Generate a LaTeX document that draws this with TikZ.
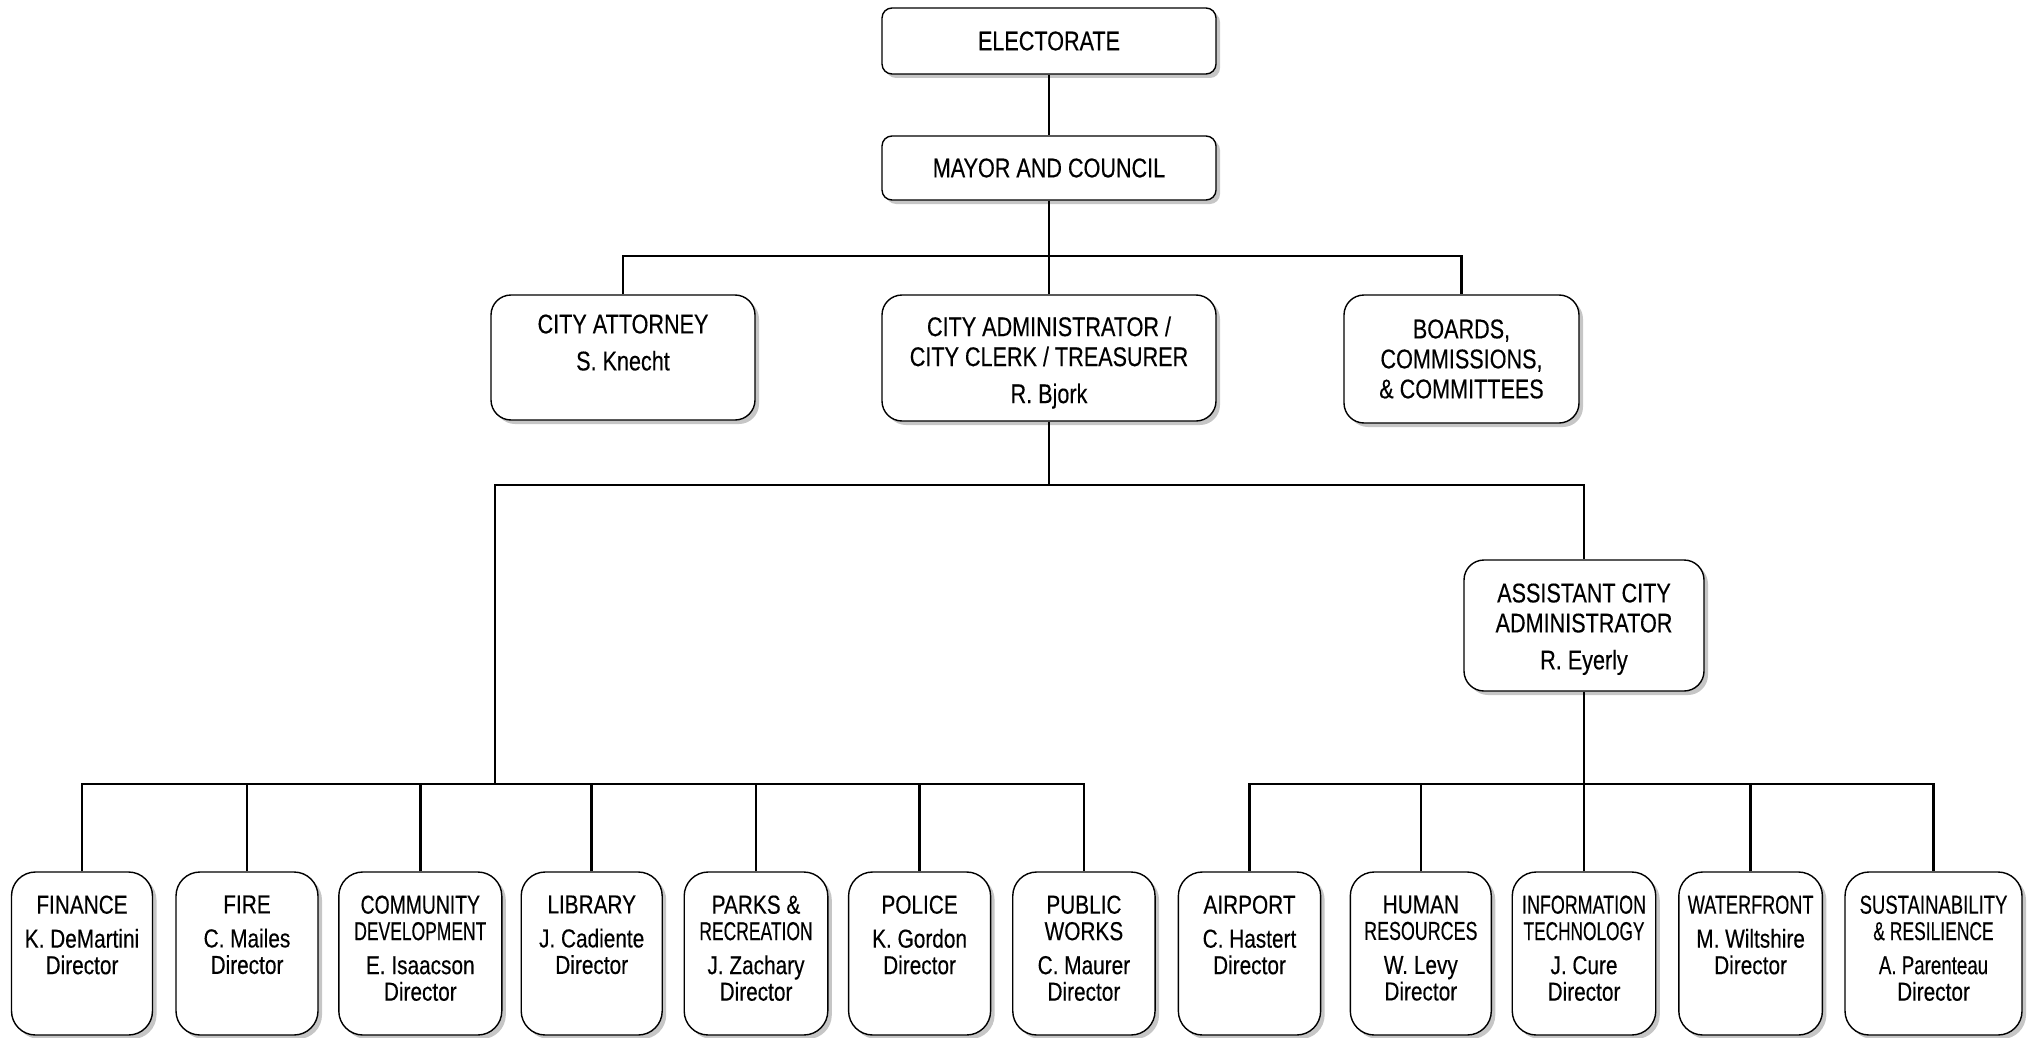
\documentclass[tikz,border=0pt]{standalone}
\usepackage{fontspec}
\setmainfont[FakeStretch=0.8,FakeBold=0.3]{Liberation Sans}
\usepackage{graphicx}
\usetikzlibrary{shadows}
\newcommand\sq[2]{\scalebox{#1}[1]{#2}}
\begin{document}
\begin{tikzpicture}[x=1pt,y=1pt,
  box/.style={draw, line width=1.4pt, fill=white, rounded corners=#1, inner sep=0pt,
    drop shadow={shadow xshift=4pt, shadow yshift=-4pt, fill=black!50, opacity=0.45}},
  box/.default=20pt,
  topfont/.style={font=\fontsize{27}{30}\selectfont, align=center},
  ttxt/.style={anchor=north, inner sep=0pt, align=center, font=\fontsize{27}{30}\selectfont},
  btxt/.style={anchor=north, inner sep=0pt, align=center, font=\fontsize{26}{26.5}\selectfont},
  conn/.style={line width=2.6pt, line join=miter}
]
\useasboundingbox (0,0) rectangle (2028,-1038);
\newcommand\deptbox[4]{%
  \node[box=24pt, minimum width=#3, minimum height=163pt] (#1) at (#2,-953.5) {};
  \node[btxt] (#1t) at ([yshift=-24pt]#1.north) {#4};
}
% top levels
\node[box=10pt, topfont, minimum width=334pt, minimum height=66pt] (elec) at (1049,-41) {ELECTORATE};
\node[box=10pt, topfont, minimum width=334pt, minimum height=64pt] (mayor) at (1049,-168) {MAYOR AND COUNCIL};
\node[box, minimum width=264pt, minimum height=125pt] (atty) at (623,-357.5) {};
\node[ttxt] (attyt) at ([yshift=-20pt]atty.north) {CITY ATTORNEY\\[7pt]S. Knecht};
\node[box, minimum width=334pt, minimum height=126pt] (admin) at (1049,-358) {};
\node[ttxt] (admint) at ([yshift=-22pt]admin.north) {CITY ADMINISTRATOR /\\CITY CLERK / TREASURER\\[7pt]R. Bjork};
\node[box, topfont, minimum width=235pt, minimum height=128pt] (boards) at (1461.5,-359) {BOARDS,\\COMMISSIONS,\\\& COMMITTEES};
\node[box, minimum width=240pt, minimum height=131pt] (asst) at (1584,-625.5) {};
\node[ttxt] (asstt) at ([yshift=-24pt]asst.north) {ASSISTANT CITY\\ADMINISTRATOR\\[7pt]R. Eyerly};
% departments
\deptbox{fin}{82}{141pt}{FINANCE\\[7.5pt]K. DeMartini\\Director}
\deptbox{fire}{247}{142pt}{FIRE\\[7.5pt]C. Mailes\\Director}
\deptbox{com}{420.3}{163pt}{\sq{0.93}{COMMUNITY}\\\sq{0.84}{DEVELOPMENT}\\[7.5pt]E. Isaacson\\Director}
\deptbox{lib}{591.7}{141pt}{LIBRARY\\[7.5pt]J. Cadiente\\Director}
\deptbox{parks}{756}{143.6pt}{PARKS \&\\\sq{0.84}{RECREATION}\\[7.5pt]J. Zachary\\Director}
\deptbox{pol}{919.6}{142pt}{POLICE\\[7.5pt]K. Gordon\\Director}
\deptbox{pw}{1083.9}{142.3pt}{PUBLIC\\WORKS\\[7.5pt]C. Maurer\\Director}
\deptbox{air}{1249.5}{142.3pt}{AIRPORT\\[7.5pt]C. Hastert\\Director}
\deptbox{hr}{1420.8}{141pt}{HUMAN\\\sq{0.86}{RESOURCES}\\[7.5pt]W. Levy\\Director}
\deptbox{it}{1584}{143.5pt}{\sq{0.86}{INFORMATION}\\\sq{0.83}{TECHNOLOGY}\\[7.5pt]J. Cure\\Director}
\deptbox{wf}{1750.6}{143.6pt}{\sq{0.87}{WATERFRONT}\\[7.5pt]M. Wiltshire\\Director}
\deptbox{sus}{1933.5}{177pt}{\sq{0.89}{SUSTAINABILITY}\\\sq{0.84}{\& RESILIENCE}\\[7.5pt]\sq{0.9}{A. Parenteau}\\Director}
% connectors
\coordinate (b1) at (1049,-256);
\coordinate (b2) at (1049,-485);
\coordinate (lbus) at (495,-784);
\coordinate (rbus) at (1584,-784);
\draw[conn] (elec) -- (mayor);
\draw[conn] (mayor.south) -- (b1);
\draw[conn] (atty.north) -- (atty.north |- b1) -- (boards.north |- b1) -- (boards.north);
\draw[conn] (b1) -- (admin.north);
\draw[conn] (admin.south) -- (b2);
\draw[conn] (asst.north) -- (asst.north |- b2) -- (lbus |- b2) -- (lbus);
\draw[conn] (fin.north) -- (fin.north |- lbus) -- (pw.north |- lbus) -- (pw.north);
\foreach \n in {fire,com,lib,parks,pol} \draw[conn] (\n.north) -- (\n.north |- lbus);
\draw[conn] (asst.south) -- (rbus);
\draw[conn] (air.north) -- (air.north |- rbus) -- (sus.north |- rbus) -- (sus.north);
\foreach \n in {hr,it,wf} \draw[conn] (\n.north) -- (\n.north |- rbus);
\end{tikzpicture}
\end{document}
